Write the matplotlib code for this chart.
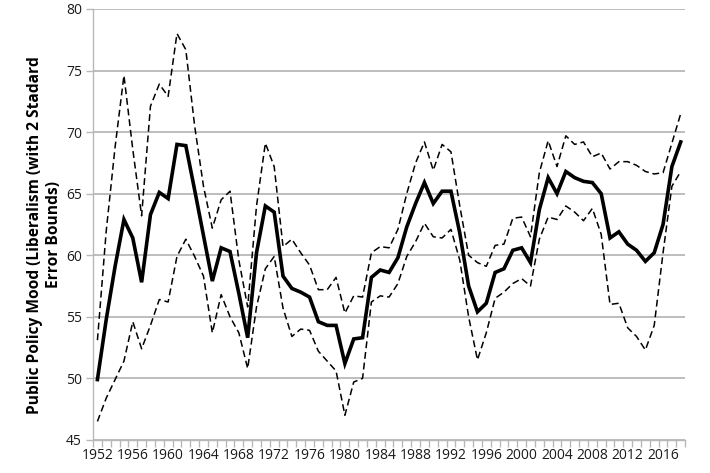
import matplotlib.pyplot as plt
from matplotlib.ticker import FixedLocator

# Valores (1952-2018)
anios = list(range(1952, 2019))
mood = [49.9, 54.8, 59.1, 62.9, 61.4, 57.8, 63.3, 65.1, 64.6, 69.0,
        68.9, 65.3, 61.6, 57.9, 60.6, 60.3, 56.9, 53.3, 60.2, 64.0,
        63.5, 58.3, 57.3, 57.0, 56.6, 54.6, 54.3, 54.3, 51.2, 53.2,
        53.3, 58.2, 58.8, 58.6, 59.8, 62.3, 64.2, 65.9, 64.2, 65.2,
        65.2, 61.8, 57.5, 55.4, 56.1, 58.6, 58.9, 60.4, 60.6, 59.4,
        63.7, 66.3, 65.0, 66.8, 66.3, 66.0, 65.9, 65.0, 61.4, 61.9,
        60.9, 60.4, 59.5, 60.2, 62.5, 67.2, 69.2]
superior = [53.1, 62.0, 68.8, 74.6, 68.6, 63.2, 72.1, 73.9, 72.9, 78.0,
            76.7, 70.5, 65.6, 62.2, 64.5, 65.2, 59.6, 55.8, 64.0, 69.1,
            67.2, 60.7, 61.3, 60.2, 59.2, 57.2, 57.2, 58.2, 55.3, 56.7,
            56.6, 60.2, 60.7, 60.6, 62.1, 65.0, 67.5, 69.2, 66.9, 69.0,
            68.4, 64.0, 60.0, 59.4, 59.1, 60.8, 60.9, 63.0, 63.1, 61.5,
            66.7, 69.3, 67.2, 69.7, 69.0, 69.2, 68.0, 68.3, 67.0, 67.6,
            67.6, 67.3, 66.8, 66.6, 66.7, 69.1, 71.5]
inferior = [46.5, 48.4, 49.9, 51.4, 54.6, 52.4, 54.3, 56.4, 56.2, 59.9,
            61.3, 59.9, 58.3, 53.7, 56.8, 55.0, 53.7, 50.8, 55.8, 58.9,
            59.9, 55.7, 53.4, 54.0, 53.9, 52.2, 51.4, 50.6, 47.0, 49.7,
            50.0, 56.2, 56.7, 56.6, 57.7, 59.9, 61.1, 62.6, 61.5, 61.4,
            62.1, 59.6, 55.0, 51.5, 53.7, 56.5, 57.0, 57.7, 58.1, 57.5,
            61.3, 63.1, 62.9, 64.0, 63.5, 62.8, 63.8, 61.7, 56.0, 56.1,
            54.1, 53.4, 52.3, 54.3, 60.2, 65.6, 66.8]
etiquetas = [str(a) for a in anios if (a - 1952) % 4 == 0]

plt.rcParams['font.family'] = ['Open Sans', 'DejaVu Sans']

fig = plt.figure(figsize=(7.1, 4.73), dpi=100)
ax = fig.add_axes([0.131, 0.070, 0.834, 0.911])

pos = list(range(len(anios)))
ax.plot(pos, superior, color='black', lw=1.1, dashes=(4.5, 2.5))
ax.plot(pos, inferior, color='black', lw=1.1, dashes=(4.5, 2.5))
ax.plot(pos, mood, color='black', lw=2.6, solid_joinstyle='miter')

ax.set_ylim(45, 80)
ax.set_yticks(range(45, 81, 5))
ax.set_xlim(-0.5, len(anios) - 0.5)
ax.set_xticks([p for p, a in zip(pos, anios) if (a - 1952) % 4 == 0])
ax.set_xticklabels(etiquetas)
ax.xaxis.set_minor_locator(FixedLocator([p - 0.5 for p in pos] + [len(anios) - 0.5]))

ax.grid(axis='y', color='#b8b8b8', lw=1.3)
ax.set_axisbelow(True)
for lado in ['top', 'right']:
    ax.spines[lado].set_visible(False)
for lado in ['left', 'bottom']:
    ax.spines[lado].set_color('#b8b8b8')
    ax.spines[lado].set_linewidth(1.0)

ax.tick_params(axis='x', which='major', length=0, pad=6, labelsize=10, colors='#1a1a1a')
ax.tick_params(axis='x', which='minor', length=5, color='#b8b8b8', width=1)
ax.tick_params(axis='y', length=5, color='#b8b8b8', width=1, labelsize=10,
               labelcolor='#1a1a1a', pad=3)

ax.set_ylabel('Public Policy Mood (Liberalism (with 2 Stadard\nError Bounds)',
              fontsize=11.2, fontweight='bold', linespacing=1.3)
ax.yaxis.set_label_coords(-0.052, 0.476)

fig.savefig('out.png', dpi=100)
